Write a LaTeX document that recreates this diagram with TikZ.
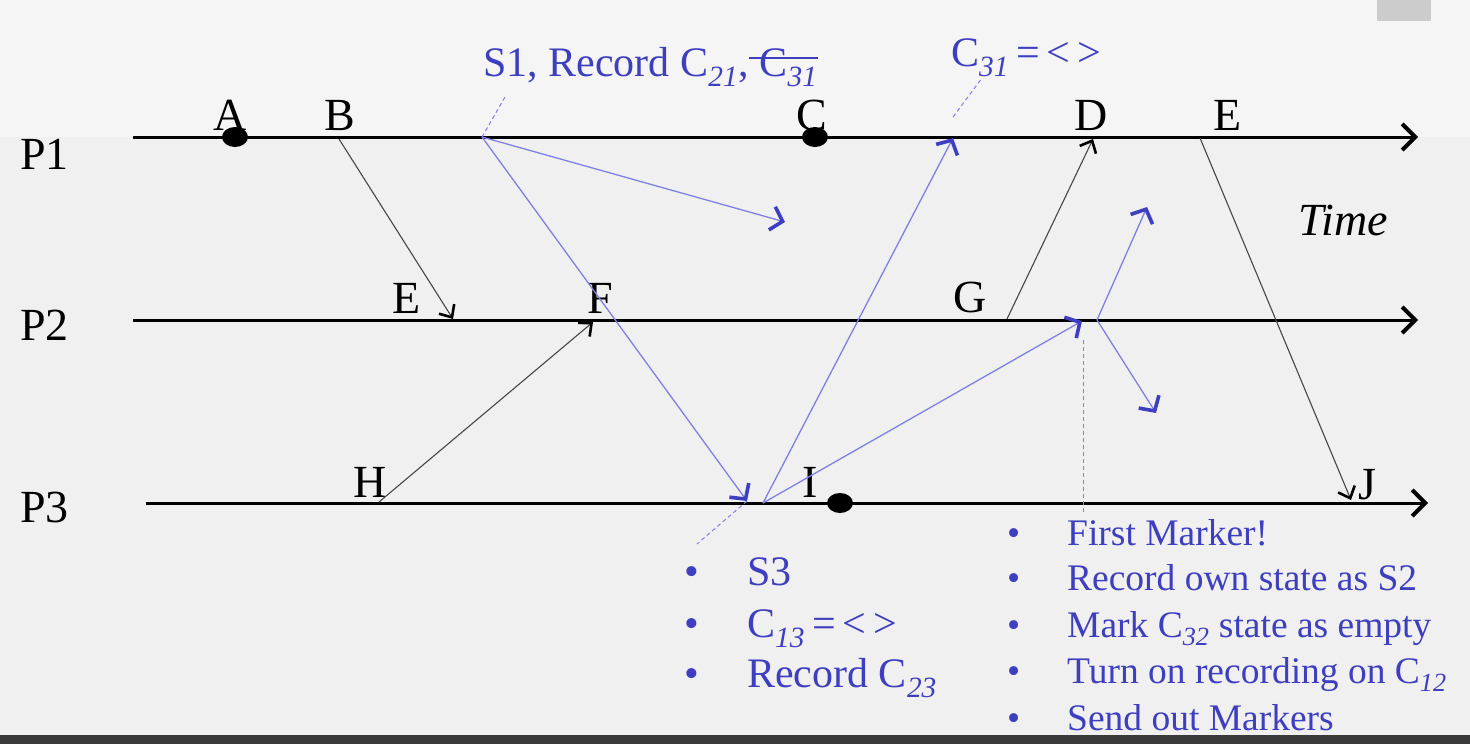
\documentclass[tikz,border=0pt]{standalone}
\usepackage{fontspec}
\setmainfont{Liberation Serif}
\usepackage{tikz}
\usetikzlibrary{arrows.meta,positioning}
\definecolor{Marker}{RGB}{62,62,192}
\definecolor{MarkerLine}{RGB}{128,128,228}
\definecolor{Msg}{RGB}{70,70,70}
\definecolor{Fond}{RGB}{240,240,240}
\definecolor{FondHaut}{RGB}{245,245,245}
\definecolor{Barre}{RGB}{58,58,58}

\tikzset{
  proc/.style={line width=3pt,-{Straight Barb[length=13pt,width=26pt,line width=4pt]}},
  msg/.style={Msg,line width=1.1pt,-{Straight Barb[length=10pt,width=18pt,line width=2.6pt,color=black]}},
  markmsg/.style={MarkerLine,line width=1.3pt,-{Straight Barb[length=11pt,width=24pt,line width=3.6pt,color=Marker]}},
  pointer/.style={MarkerLine,line width=1pt,dash pattern=on 4pt off 3pt},
  lbl/.style={font=\fontsize{46}{50}\selectfont,inner sep=0pt,anchor=base},
  note/.style={Marker,font=\fontsize{42}{48}\selectfont,inner sep=0pt,anchor=base west},
  smallnote/.style={Marker,font=\fontsize{37.5}{46}\selectfont,inner sep=0pt,anchor=base west}
}

\begin{document}
\begin{tikzpicture}[x=1pt,y=-1pt]
\useasboundingbox (0,0) rectangle (1470,744);
\fill[Fond] (0,0) rectangle (1470,744);
\fill[FondHaut] (0,0) rectangle (1470,137);
\fill[Barre] (0,735) rectangle (1470,744);
\fill[black!20] (1377,0) rectangle (1431,21);
%
% processes
\coordinate (p1s) at (133,137); \coordinate (p1e) at (1418,137);
\coordinate (p2s) at (133,320); \coordinate (p2e) at (1418,320);
\coordinate (p3s) at (146,503); \coordinate (p3e) at (1428,503);
\draw[proc] (p1s) -- (p1e);
\draw[proc] (p2s) -- (p2e);
\draw[proc] (p3s) -- (p3e);
\node[lbl,anchor=base west] (P1) at (20,169) {P1};
\node[lbl,anchor=base west] (P2) at (20,340) {P2};
\node[lbl,anchor=base west] (P3) at (20,522) {P3};
%
% events
\coordinate (a) at (235,137); \coordinate (b) at (339,139);
\coordinate (c) at (815,137); \coordinate (d) at (1093,139);
\coordinate (e) at (1200,138); \coordinate (e2) at (453,319);
\coordinate (f) at (593,322); \coordinate (g) at (1007,319);
\coordinate (h) at (379,502); \coordinate (i) at (840,503);
\coordinate (j) at (1351,500);
\fill (a) ellipse [x radius=13pt, y radius=10pt];
\fill (c) ellipse [x radius=13pt, y radius=10pt];
\fill (i) ellipse [x radius=13pt, y radius=10pt];
\node[lbl] (A) at (230,130) {A};
\node[lbl] (B) at (340,130) {B};
\node[lbl] (C) at (812,130) {C};
\node[lbl] (D) at (1091,130) {D};
\node[lbl] (E) at (1228,130) {E};
\node[lbl] (E2) at (407,313) {E};
\node[lbl] (F) at (600,313) {F};
\node[lbl] (G) at (970,312) {G};
\node[lbl] (H) at (370,497) {H};
\node[lbl] (I) at (810,497) {I};
\node[lbl] (J) at (1367,499) {J};
\node[font=\fontsize{46}{50}\selectfont\itshape,inner sep=0pt] (time) at (1343,220) {Time};
%
% messages
\draw[msg] (b) -- (e2);
\draw[msg] (h) -- (f);
\draw[msg] (g) -- (d);
\draw[msg] (e) -- (j);
%
% markers
\coordinate (s1) at (482,137); \coordinate (s3) at (763,503); \coordinate (s2) at (1097,320);
\coordinate (m1) at (785,222); \coordinate (m2) at (747,501);
\coordinate (m3) at (953,138); \coordinate (m4) at (1082,321);
\coordinate (m5) at (1147,207); \coordinate (m6) at (1156,413);
\draw[markmsg] (s1) -- (m1);
\draw[markmsg] (s1) -- (m2);
\draw[markmsg] (s3) -- (m3);
\draw[markmsg] (s3) -- (m4);
\draw[markmsg] (s2) -- (m5);
\draw[markmsg] (s2) -- (m6);
%
% notes
\node[note] (n1) at (483,76) {S1, Record C\textsubscript{\textit{21}},};
\node[note] (n2) at (n1.base east) {\ C\textsubscript{\textit{31}}};
\draw[Marker,line width=1.6pt] ([yshift=18pt]n2.base west) -- ([yshift=18pt]n2.base east);
\node[note] (n3) at (951,66) {C\textsubscript{\textit{31}}\,=\,<\,>};
\node[note] (l1) at (684,585) {\makebox[63pt][l]{\textbullet}S3};
\node[note] (l2) at (684,637) {\makebox[63pt][l]{\textbullet}C\textsubscript{\textit{13}}\,=\,<\,>};
\node[note] (l3) at (684,687) {\makebox[63pt][l]{\textbullet}Record C\textsubscript{\textit{23}}};
\node[smallnote] (r1) at (1007,545) {\makebox[60pt][l]{\textbullet}First Marker!};
\node[smallnote] (r2) at (1007,590) {\makebox[60pt][l]{\textbullet}Record own state as S2};
\node[smallnote] (r3) at (1007,637) {\makebox[60pt][l]{\textbullet}Mark C\textsubscript{\textit{32}} state as empty};
\node[smallnote] (r4) at (1007,683) {\makebox[60pt][l]{\textbullet}Turn on recording on C\textsubscript{\textit{12}}};
\node[smallnote] (r5) at (1007,730) {\makebox[60pt][l]{\textbullet}Send out Markers};
\coordinate (q1) at (505,97); \coordinate (q3) at (982,78);
\coordinate (q3b) at (953,117); \coordinate (q4) at (697,544);
\coordinate (q2a) at (1083,340); \coordinate (q2b) at (1083,515);
\draw[pointer] (s1) -- (q1);
\draw[pointer] (q3b) -- (q3);
\draw[pointer] (m2) -- (q4);
\draw[pointer] (q2a) -- (q2b);
%
\end{tikzpicture}
\end{document}
